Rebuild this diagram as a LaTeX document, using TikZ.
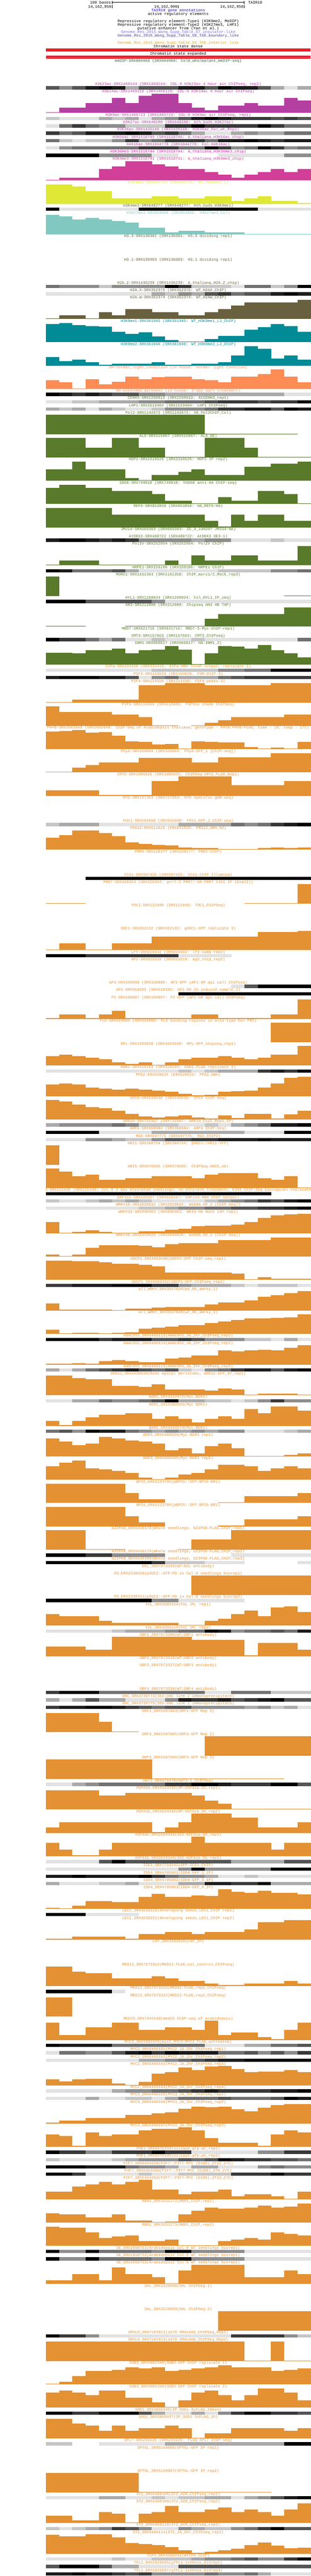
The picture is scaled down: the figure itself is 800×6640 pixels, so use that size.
\documentclass[tikz,border=0pt]{standalone}
\usepackage{fontspec}
\newfontfamily\ucsc{Liberation Mono}
\definecolor{cPur}{RGB}{179,64,160}
\definecolor{cMag}{RGB}{222,20,180}
\definecolor{cPink}{RGB}{209,63,153}
\definecolor{cYel}{RGB}{223,232,52}
\definecolor{cOl}{RGB}{104,96,62}
\definecolor{cTl}{RGB}{128,200,192}
\definecolor{cTeal}{RGB}{0,139,150}
\definecolor{cCor}{RGB}{253,140,85}
\definecolor{cGrn}{RGB}{88,122,42}
\definecolor{cOr}{RGB}{227,145,50}
\definecolor{cMe}{RGB}{60,90,60}
\definecolor{cBlue}{RGB}{20,0,224}
\definecolor{cS7}{RGB}{123,104,238}
\definecolor{cS8}{RGB}{72,61,139}
\definecolor{cS9}{RGB}{218,165,32}
\definecolor{cRed}{RGB}{237,28,36}
\definecolor{gray1}{RGB}{226,226,226}
\definecolor{gray2}{RGB}{198,198,198}
\definecolor{gray3}{RGB}{170,170,170}
\definecolor{gray4}{RGB}{141,141,141}
\definecolor{gray5}{RGB}{113,113,113}
\definecolor{gray6}{RGB}{85,85,85}
\definecolor{gray7}{RGB}{57,57,57}
\definecolor{gray8}{RGB}{28,28,28}
\definecolor{gray9}{RGB}{0,0,0}
\tikzset{lbl/.style={font={\ucsc\fontsize{10pt}{12pt}\selectfont},inner sep=0pt,anchor=base}}
\def\Ly{156.7}
\newcommand\advtrack[1]{\pgfmathsetmacro\tmpy{\Ly+#1}\global\let\Ly\tmpy}
\newcommand\trklabel[2]{\node[lbl,text=#2] (lab) at (459,\Ly+3.3) {#1};}
% dense track: label, colour, 20 grey levels
\newcommand\dtr[3]{%
  \trklabel{#1}{#2}%
  \foreach \v [count=\i] in {#3} {%
    \ifnum\v>0 \fill[gray\v] ({118+(\i-1)*34.1},\Ly+5.6) rectangle ({118+\i*34.1+0.3},\Ly+14);\fi}%
  \advtrack{19}}
% bar track: label, colour, 20 heights
\newcommand\btr[3]{%
  \trklabel{#1}{#2}%
  \foreach \h [count=\i] in {#3} {%
    \ifdim\h pt>0pt \fill[#2] ({118+(\i-1)*34.1},\Ly+55.6) rectangle ({118+\i*34.1+0.3},\Ly+55.6-\h);\fi}%
  \advtrack{60}}
\newcommand\ebar[2]{\trklabel{#1}{#2}\advtrack{60}}
\newcommand\edense[2]{\trklabel{#1}{#2}\advtrack{19}}
\begin{document}
\begin{tikzpicture}[x=1pt,y=-1pt]
\fill[white] (0,0) rectangle (800,6640);
\useasboundingbox (0,0) rectangle (800,6640);
% ruler
\node[lbl,anchor=base east] (hb) at (286,9.3) {100 bases};
\coordinate (r1) at (289,6); \coordinate (r2) at (629,6);
\draw[line width=1pt] (r1) -- (r2);
\draw[line width=1pt] (289,2) -- (289,10) (629,2) -- (629,10);
\node[lbl,anchor=base west] (tair) at (639,9.3) {TAIR10};
\node[lbl,anchor=base east] (p1) at (287,21) {14,162,850};
\node[lbl,anchor=base east] (p2) at (457,21) {14,162,900};
\node[lbl,anchor=base east] (p3) at (627,21) {14,162,950};
\draw[line width=1pt] (289,13.3) -- (289,21.7) (459,13.3) -- (459,21.7) (629,13.3) -- (629,21.7);
% top tracks
\node[lbl,text=cBlue] (t1) at (459,30) {TAIR10 gene annotations};
\node[lbl] (t2) at (459,39.3) {active regulatory elements};
\node[lbl] (t3) at (459,58) {Repressive regulatory element-Type1 (H3K9me2, MeDIP)};
\node[lbl] (t4) at (459,67) {Repressive regulatory element-Type2 (H3K27me3, LHP1)};
\node[lbl] (t5) at (459,76) {putative enhancer from (Yan et al.)};
\node[lbl,text=cS7] (t6) at (459,85.3) {Genome\_Res\_2015\_Wang\_Supp\_Table\_S7\_insulator-like};
\node[lbl,text=cS8] (t7) at (459,94.3) {Genome\_Res\_2015\_Wang\_Supp\_Table\_S8\_TAD\_boundary\_like};
\node[lbl,text=cS9] (t8) at (459,113.3) {Genome\_Res\_2015\_Wang\_Supp\_Table\_S9\_TAD\_interior\_like};
\node[lbl] (t9) at (459,122.3) {Chromatin state dense};
\fill[cRed] (118,124.3) rectangle (800,133);
\node[lbl] (t10) at (459,141.3) {Chromatin state expanded};
\fill[cRed] (118,143) rectangle (800,151.7);
\draw[cS7,line width=0.7pt] (118,147.2) -- (800,147.2);
\draw[cS7,line width=0.7pt] (118.3,143) -- (118.3,151.7);
% data tracks
\ebar{meDIP-SRX004968 (SRX004968: Col0\_wholeplant\_meDIP-seq)}{cMe}
\dtr{H3K23ac-SRX1469144 (SRX1469144: COL-0 H3K23ac 4 hour air ChIPseq, rep2)}{cPur}{6,4,6,8,9,8,3,6,6,6,8,8,6,9,8,8,6,3,1,3}
\btr{H3K14ac-SRX1469119 (SRX1469119: COL-0 H3K14ac 4 hour air ChIPseq)}{cPur}{1.7,13.7,13.7,25.7,25.7,38.7,25.7,44.7,50,50,25.7,13.7,6.7,19.7,19.7,25.7,19.7,19.7,38.7,32.7}
\dtr{H3K9ac-SRX1466723 (SRX1466723: COL-0 H3K9ac air ChIPseq, rep1)}{cPur}{2,1,1,1,3,2,3,1,3,4,6,8,9,8,7,7,7,6,7,6}
\dtr{H3K27ac-SRX648280 (SRX648280: Ath\_buds\_H3K27ac)}{cPur}{1,5,7,5,4,4,2,2,2,7,7,9,7,7,7,7,9,7,5,5}
\dtr{H3K36ac-SRX1426149 (SRX1426149: H3K36ac\_Col\_wt\_Rep1)}{cPur}{7,5,6,8,8,8,9,8,6,7,5,3,1,1,3,4,3,3,5,5}
\dtr{H3K56ac-SRX1518745 (SRX1518745: A\_thaliana\_H3K56ac\_chip)}{cPur}{5,2,1,2,2,4,7,4,5,7,7,7,5,8,8,9,8,7,8,8}
\dtr{H4K16ac-SRX1044778 (SRX1044778: Col-H4K16ac)}{cPur}{1,4,5,5,5,5,5,7,7,7,5,5,9,7,4,5,9,7,4,5}
\dtr{H3K36me3-SRX1518744 (SRX1518744: A\_thaliana\_H3K36me3\_chip)}{cMag}{9,9,9,9,4,4,4,4,1,1,0,0,0,1,1,1,1,1,4,4}
\btr{H3K4me3-SRX1518741 (SRX1518741: A\_thaliana\_H3K4me3\_chip)}{cPink}{1.7,7.7,7.7,7.7,29.7,35.7,50,50,42.3,35.7,29.7,29.7,22.3,14.7,7.7,14.7,22.3,29.7,22.3,29.7}
\btr{H3K4me2-DRX066756 (DRX066756: WT\_H3K4me2\_1)}{cYel}{50,50,44.3,32.4,32.4,13.4,13.4,13.4,19.4,19.4,13.4,13.4,19.4,19.4,7.5,13.4,19.4,7.5,7.5,1.6}
\dtr{H3K4me1-SRX648277 (SRX648277: Ath\_buds\_H3K4me1)}{cOl}{9,1,1,1,1,1,1,9,9,9,9,9,9,9,9,9,1,1,1,1}
\btr{H3K27me3-SRX853860 (SRX853860: H3K27me3\_Col)}{cTl}{50,46.7,38.7,42.7,38.7,34.4,30.4,17.4,17.4,5.5,9.5,9.5,5.5,5.5,5.5,1.6,1.6,1.6,1.6,1.6}
\ebar{H3.3-SRX130301 (SRX130301: H3.3 dividing rep1)}{cOl}
\ebar{H3.1-SRX130303 (SRX130303: H3.1 dividing rep1)}{cOl}
\dtr{H2A.Z-SRX1436239 (SRX1436239: A\_thaliana\_H2A.Z\_chip)}{cOl}{5,4,4,4,2,4,4,4,4,9,7,2,2,2,1,5,5,2,4,9}
\dtr{H2A.X-SRX352375 (SRX352375: WT\_H2AX\_ChIP)}{cOl}{1,1,1,1,1,1,1,1,3,2,4,3,6,7,5,6,6,8,9,8}
\btr{H2A.W-SRX352374 (SRX352374: WT\_H2AW\_ChIP)}{cOl}{2,9.5,9.5,2,17.4,9.5,25.3,25.3,17.4,17.4,9.5,9.5,17.4,25.3,34.4,42.3,42.3,42.3,42.3,50}
\btr{H3K9me1-SRX361945 (SRX361945: WT\_H3K9me1\_LJ\_ChIP)}{cTeal}{46.7,50,44.7,41.5,40.3,27.7,21.4,25.7,15.4,5.5,2.4,1.6,8.7,16.6,16.6,32.4,38.4,46.7,41.5,27.7}
\btr{H3K9me2-SRX361946 (SRX361946: WT\_H3K9me2\_LJ\_ChIP)}{cTeal}{22.5,11.5,15.8,8.7,1.6,4.7,4.7,4.7,8.7,1.6,1.6,4.7,4.7,8.7,25.7,50,43.5,18.6,25.7,15.8}
\btr{DH-normal\_light\_condition (in house: normal light conditon)}{cCor}{22.5,16.6,1.6,24.9,11.9,18.6,31.6,24.9,29.7,31.6,31.6,24.9,22.5,16.6,31.6,31.6,38,50,31.6,16.6}
\dtr{DH-extended\_darkness (in house: 3-day dark treatment)}{cCor}{9,8,7,8,7,6,6,4,4,3,3,3,3,3,3,3,3,3,1,1}
\dtr{CENH3-SRX2250913 (SRX2250913: AtCENH3\_rep1)}{cGrn}{1,1,2,2,3,3,3,4,4,5,5,5,6,7,7,7,6,7,7,9}
\dtr{LHP1-SRX1519404 (SRX1519404: LHP1 ChIPseq)}{cGrn}{3,2,3,1,3,2,1,1,2,4,4,4,5,7,7,8,8,6,9,8}
\btr{Pol2-SRX1142672 (SRX1142672: 30\_Pol2ChIP\_Col)}{cGrn}{50,50,50,50,50,50,50,50,50,50,50,50,1.6,1.6,1.6,1.6,1.6,1.6,1.6,0}
\btr{AL5-SRX515067 (SRX515067: AL5\_OE)}{cGrn}{50,50,50,25.3,25.3,50,50,25.3,25.3,1.6,1.6,1.6,50,50,50,25.3,1.6,1.6,1.6,1.6}
\btr{HDP2-SRX2310526 (SRX2310526: HDP2 IP rep2)}{cGrn}{29.7,29.7,50,29.7,29.7,29.7,7.5,2,15,15,22.5,29.7,15,15,15,36.8,36.8,44.7,44.7,50}
\btr{SDG8-SRX749018 (SRX749018: hSDG8 anti-HA ChIP-seq)}{cGrn}{41.5,50,50,41.5,41.5,33.6,33.6,33.6,25.7,8.7,8.7,2,2,17.8,8.7,8.7,33.6,33.6,25.7,2}
\btr{REF6-SRX853858 (SRX853858: HA\_REF6-HA)}{cGrn}{50,50,50,50,50,32.8,32.8,32.8,32.8,32.8,32.8,32.8,16.6,2.4,32.8,16.6,32.8,32.8,16.6,16.6}
\edense{JMJ14-SRX669383 (SRX669383: ZC\_3\_140207 JMJ14-HA)}{cGrn}
\dtr{AtDEK3-SRX488722 (SRX488722: AtDEK3 OE3-1)}{cGrn}{8,9,9,8,7,8,7,4,4,4,4,3,4,4,1,1,1,2,1,1}
\btr{PolIV-SRX252954 (SRX252954: PolIV ChIP)}{cGrn}{1.6,12.3,12.3,12.3,1.6,1.6,1.6,1.6,1.6,12.3,1.6,25.3,12.3,12.3,25.3,25.3,12.3,12.3,12.3,50}
\dtr{NRPE1-SRX159106 (SRX159106: NRPE1 ChIP)}{cGrn}{9,8,5,5,5,6,3,1,1,1,1,1,1,2,2,2,2,4,4,5}
\btr{MORC1-SRX1161363 (SRX1161358: ChIP\_morc1/2\_Mock\_rep3)}{cGrn}{50,0,0,0,0,0,0,0,0,0,0,0,0,0,0,0,0,0,1.6,1.6}
\dtr{HYL1-SRX1268024 (SRX1268024: Col\_HYL1\_IP\_seq)}{cGrn}{9,9,9,6,6,6,6,6,4,1,1,1,1,1,1,1,1,1,1,1}
\btr{AN3-SRX212080 (SRX212080: Chipseq AN3 HB TAP)}{cGrn}{1.6,1.6,1.6,0,0,0,1.6,1.6,1.6,1.6,1.6,1.6,19.8,32.4,32.4,32.4,32.4,32.4,50,50}
\edense{MBD7-SRX621716 (SRX621716: MBD7-5-Myc-ChIP-rep1)}{cGrn}
\dtr{CMT3-SRX157663 (SRX157663: CMT3\_ChIPseq)}{cGrn}{9,7,7,5,3,5,1,1,2,1,1,2,1,1,1,1,1,1,1,5}
\btr{IBM1-DRX066817 (DRX066817: HA-IBM1\_2)}{cGrn}{30.8,30.8,28.9,36.8,36.8,41.5,28.9,36.8,38.7,48.6,38.7,2,28.9,48.6,46.7,41.5,50,36.8,28.9,18.6}
\dtr{E2Fa-SRX333416 (SRX333416: E2Fa-HBH TChAP output, replicate 2)}{cOr}{1,1,1,1,1,1,1,1,2,2,2,2,2,4,4,5,5,9,9,9}
\dtr{PIF3-SRX159028 (SRX159028: P3M-ChIP-3)}{cOr}{8,9,9,9,8,8,6,1,4,5,3,3,3,5,6,7,7,7,7,7}
\btr{PIF4-SRX214150 (SRX214150: PIF4-peaks-3)}{cOr}{1.6,1.6,7.9,7.9,7.9,7.9,7.9,44.7,44.7,50,50,50,44.7,44.7,44.7,44.7,44.7,50,50,50}
\btr{PIF5-SRX115869 (SRX115869: PIF5ox shade ChIPSeq)}{cOr}{50,36.4,36.4,36.4,36.4,29.3,29.3,22.5,1.6,1.6,0,1.6,8.3,15.4,22.5,22.5,22.5,22.5,29.3,29.3}
\btr{PHYB-SRX2083648 (SRX2083648: ChIP-Seq of Arabidopsis thaliana; genotype - PHYB:PHYB-FLAG, time - 10, temp - 17C)}{cOr}{45.5,47.4,50,42.7,44.7,35.6,20.6,19.4,12.7,13.4,1.6,20.6,19.4,17.4,17.4,5.5,2.4,4.3,2.4,19.4}
\btr{PhyA-SRX320094 (SRX320094: PhyA-GFP\_1 [ChIP-seq])}{cOr}{1.6,1.6,12.7,19.8,25.7,25.7,25.7,38.4,38.4,38.4,38.4,26.5,26.5,39.5,39.5,39.5,39.5,49.4,50,50}
\btr{CRY2-SRX1005826 (SRX1005826: ChIPSeq-CRY2\_FLAG\_Rep1)}{cOr}{14.6,14.6,14.6,14.6,1.6,1.6,1.6,1.6,38.7,38.7,50,50,50,50,26.9,26.9,26.9,26.9,38.7,38.7}
\ebar{HY5-SRX727353 (SRX727353: HY5 specific gDB-seq)}{cOr}
\dtr{FHY1-SRX555090 (SRX555090: FHY1-GFP\_2\_ChIP-seq)}{cOr}{2,3,3,3,1,1,1,1,1,1,3,3,3,3,5,4,5,7,8,9}
\btr{FRS12-ERX611626 (ERX611626: FRS12\_HBH\_N2)}{cOr}{30.4,37.6,49,50,42.7,34.4,19.4,14.6,12.7,11.5,5.5,4,4,2.4,1.6,2.4,4,5.5,4.3,5.5}
\ebar{PRR5-SRX128177 (SRX128177: PRR5-ChIP)}{cOr}
\dtr{CCA1-SRX997425 (SRX997425: CCA1-ChIP\_Illumina)}{cOr}{0,0,0,9,9,9,9,9,9,9,9,9,9,9,9,9,9,9,9,9}
\btr{PRR7-SRX328353 (SRX328353: prr7-3 PRR7::HA-PRR7 \#151 IP (ExpII))}{cOr}{1.6,1.6,1.6,0,0,0,0,0,0,0,0,0,0,0,0,1.6,1.6,1.6,1.6,50}
\ebar{TOC1-SRX121040 (SRX121040: TOC1\_ChIPSeq)}{cOr}
\btr{SOC1-SRX262132 (SRX262132: gSOC1-GFP replicate 3)}{cOr}{1.6,17.4,17.4,1.6,1.6,17.4,17.4,17.4,34.4,34.4,34.4,34.4,34.4,34.4,34.4,34.4,46.7,46.7,46.7,50}
\dtr{LFY-SRX029442 (SRX029442: lfy-samp-rep2)}{cOr}{9,9,9,7,7,7,7,7,7,7,1,1,1,1,0,0,0,0,0,0}
\ebar{AP2-SRX019319 (SRX019319: ap2\_chip\_rep2)}{cOr}
\dtr{AP3-SRX150808 (SRX150808: AP3-GFP (AP1-GR ap1 cal) ChIPseq)}{cOr}{0,0,0,0,0,0,0,0,0,0,0,0,0,0,1,6,9,9,9,9}
\dtr{AP1-SRX018392 (SRX018392: AP1-GR\_2h\_induced\_sample\_1)}{cOr}{0,0,0,0,0,0,0,0,0,0,9,9,9,9,9,9,9,9,9,9}
\btr{PI-SRX150807 (SRX150807: PI-GFP (AP1-GR ap1 cal) ChIPseq)}{cOr}{1.6,11.9,11.9,1.6,11.9,20.6,1.6,1.6,1.6,1.6,1.6,11.9,11.9,1.6,1.6,1.6,1.6,11.9,11.9,50}
\btr{FLC-SRX039006 (SRX039006: FLC binding regions in wild type Col FRI)}{cOr}{0,0,0,0,0,0,0,0,0,0,0,0,0,0,0,0,0,50,50,50}
\btr{RPL-SRX1603698 (SRX1603698: RPL-GFP\_chipseq\_rep1)}{cOr}{24.5,27.3,24.5,20.6,16.6,8.3,4.3,8.3,1.6,8.3,16.6,20.6,20.6,24.5,20.6,16.6,20.6,27.3,27.3,50}
\dtr{KAN1-SRX310193 (SRX310193: KAN1-FLAG replicate 1)}{cOr}{1,1,1,1,1,1,1,1,1,1,2,1,2,3,3,3,7,8,7,9}
\btr{PPD2-ERX620625 (ERX620625: PPD2\_HBH)}{cOr}{30,32,30,21.7,19.4,16.6,19.4,16.6,14.6,10.7,5.5,1.6,3.6,10.7,12.7,14.6,21.7,32,46.7,50}
\btr{SPCH-SRX539638 (SRX539638: SPCH ChIP-Seq)}{cOr}{50,46.7,37.6,30.8,28.5,21.7,14.6,7.5,5.5,7.5,10.7,5.5,1.6,10.7,3.6,14.6,14.6,1.6,12.7,21.7}
\dtr{ARR10-SRX732967 (SRX732967: ARR10\_Exp1\_Rep1\_IP)}{cOr}{3,4,4,4,4,5,4,2,2,2,1,1,2,1,3,4,5,8,8,9}
\dtr{ARF6-SRX368984 (SRX368984: ARF6 ChIP-Seq)}{cOr}{9,9,9,9,1,1,1,1,3,3,3,3,3,3,3,1,1,1,9,9}
\dtr{RGA-SRX647775 (SRX647775: RGA\_ChIP2)}{cOr}{1,1,1,4,4,3,2,2,4,6,6,7,7,8,8,8,9,8,8,8}
\btr{HBI1-SRX388754 (SRX388754: pHBI1::HBI1-YFP)}{cOr}{50,0,0,0,0,0,0,0,0,0,0,0,0,0,0,0,0,0,0,0}
\btr{ABI5-SRX670505 (SRX670505: ChIPSeq-ABI5\_Ab)}{cOr}{50,42.3,30.4,34.4,21.4,21.4,25.3,25.3,30.4,30.4,30.4,25.3,34.4,38.4,38.4,38.4,25.3,21.4,30.4,1.6}
\begin{scope}
\clip (118,\Ly-7) rectangle (800,\Ly+5.5);
\node[lbl,text=cOr] (ein) at (459,\Ly+3.3) {EIN3-SRX215430 (SRX215430: Col-0 3-day etiolated seedlings, no ethylene treatment, EIN3 ChIP-Seq biological replicate 1)};
\end{scope}
\dtr{}{cOr}{9,9,9,9,9,9,9,9,9,9,9,9,9,9,9,9,9,0,0,0}
\dtr{ERF115-SRX320167 (SRX320167: ERF115-HBH ChIP output)}{cOr}{2,1,1,2,3,2,3,2,1,1,1,1,2,3,4,5,7,6,8,9}
\dtr{WRKY18-SRX2039032 (SRX2039032: W18HA\_0h\_2 (ChIP-Seq))}{cOr}{1,1,1,1,1,1,1,2,2,3,4,4,5,5,6,6,7,7,8,9}
\btr{WRKY33-SRX890383 (SRX890383: WK33-HA mock 14h rep1)}{cOr}{29.3,1.6,3.6,7.5,3.6,1.6,1.6,5.5,5.5,9.5,11.5,18.6,20.6,20.6,22.5,29.3,40.3,46.3,48.6,50}
\btr{WRKY40-SRX2039026 (SRX2039026: W40HA\_0h\_1 (ChIP-Seq))}{cOr}{5.5,1.6,5.5,22.5,29.7,29.7,29.7,27.7,24.5,31.6,34.4,34.4,34.4,43.5,43.5,43.5,43.5,50,50,50}
\btr{ADCP1-SRX4503490(ADCP1-GFP ChIP-seq\_rep1)}{cOr}{50,50,47.8,47.8,45.5,41.5,41.5,38.7,35.6,19.8,19.8,19.8,19.8,19.8,16.6,1.6,6.7,3.6,3.6,3.6}
\dtr{ADCP1\_SRX4503492(ADCP1-GFP\_ChIPseq\_rep2)}{cOr}{7,7,8,8,8,9,9,9,7,7,4,3,3,3,2,1,2,2,2,1}
\btr{all\_WRKY\_SRX3557820(wt\_0h\_aWrky\_1)}{cOr}{18.6,2.8,2.8,2.8,2.8,1.6,4.7,4.7,7.5,8.7,8.7,8.7,15.8,21.7,21.7,26.9,35.6,40.3,44.7,50}
\btr{all\_WRKY\_SRX3557828(wt\_0h\_aWrky\_2)}{cOr}{10.3,1.6,2.4,2.4,1.6,2.4,4.3,13.4,16.6,18.6,22.5,23.3,28.5,31.6,35.6,39.5,39.5,41.5,42.3,50}
\dtr{ANAC055\_SRX6460113(ANAC055\_JA\_2hr\_ChIPseq\_rep1)}{cOr}{9,9,9,9,7,8,8,8,6,6,7,6,4,4,4,2,2,1,3,1}
\btr{ANAC055\_SRX6460114(ANAC055\_JA\_2hr\_ChIPseq\_rep2)}{cOr}{1.6,1.6,3.6,1.6,8.7,11.5,8.7,5.9,5.9,15.4,18.6,23.3,23.3,36.4,33.6,36.4,38.4,36.4,43.5,50}
\dtr{ANAC055\_SRX6460115(ANAC055\_JA\_2hr\_ChIPseq\_rep3)}{cOr}{3,1,3,5,6,7,8,6,5,6,2,1,4,5,7,8,8,6,8,9}
\btr{ARR12\_SRX6490939(Root apical meristems, ARR12-GFP\_IP\_rep2)}{cOr}{50,50,44.6,41.5,41.5,24.5,24.5,21.7,27.6,14.5,14.5,14.5,11.5,17.7,14.5,1.5,4.6,4.6,4.6,1.5}
\dtr{BDR1\_SRX3928572(Myc\_BDR1)}{cOr}{1,1,3,3,5,4,4,5,6,9,3,3,2,2,1,2,4,7,4,4}
\btr{BDR1\_SRX5900593(Myc BDR1)}{cOr}{12.7,1.6,12.7,21.7,28.9,28.9,32.8,32.8,17.8,24.5,17.8,8.7,17.8,24.5,17.8,43.5,32.8,50,50,39.5}
\dtr{BDR2\_SRX3928574(Myc\_BDR2)}{cOr}{5,6,4,9,8,8,5,4,3,4,3,4,3,4,4,1,1,1,2,3}
\btr{BDR3\_SRX5900594(Myc BDR3 rep1)}{cOr}{46.7,38.7,29.7,33.6,50,46.7,41.9,38.7,33.6,16.6,21.7,8.7,26.9,33.6,21.7,1.6,1.6,1.6,4.7,8.7}
\btr{BDR3\_SRX5900595(Myc BDR3 rep2)}{cOr}{34.4,43.5,50,29.7,26.5,22.5,17.4,5.5,1.6,5.5,13.4,17.4,26.5,38.4,38.4,34.4,22.5,29.7,34.4,29.7}
\btr{BPC6\_ERX2223705(pBPC6::GFP:BPC6-BR1)}{cOr}{50,50,50,50,50,50,25.7,9.9,9.9,0,0,0,0,1.6,1.6,17.4,17.4,17.4,17.4,25.7}
\btr{BPC6\_ERX2223706(pBPC6::GFP:BPC6-BR1)}{cOr}{50,50,50,50,50,50,25.7,9.5,9.5,0,0,0,0,1.6,1.6,17.8,17.8,17.8,17.8,25.7}
\btr{bZIP68\_SRX6410178(Whole seedlings, bZIP68-FLAG,CHIP,rep1)}{cOr}{50,50,50,1.6,1.6,1.6,0,0,0,0,1.6,26.9,26.9,26.9,50,50,50,50,50,50}
\dtr{bZIP68\_SRX6410179(Whole seedlings, bZIP68-FLAG,CHIP,rep2)}{cOr}{9,9,9,7,7,4,4,4,4,0,0,0,0,0,1,1,1,1,1,1}
\dtr{bZIP68\_SRX6410180(Whole seedlings, bZIP68-FLAG,CHIP,rep3)}{cOr}{9,9,9,9,9,9,9,9,7,2,2,2,1,1,1,0,0,0,0,1}
\edense{EEL\_SRX7873339(WT:EEL antibody)}{cOr}
\btr{FD\_ERX2338310(pSUC2::GFP:FD in Col-0 seedlings biorep1)}{cOr}{0,0,0,0,0,0,0,0,0,0,0,50,50,50,50,50,50,50,50,50}
\dtr{FD\_ERX2338311(pSUC2::GFP:FD in Col-0 seedlings biorep2)}{cOr}{9,9,9,9,9,9,9,9,4,4,1,1,1,1,1,0,0,0,0,0}
\btr{FUL\_SRX3505414(FUL IM, rep1)}{cOr}{29.7,24.5,24.5,24.5,12.7,7.5,7.5,7.5,7.5,7.5,1.6,1.6,12.7,17.4,29.7,39.5,24.5,46.7,50,34.4}
\dtr{FUL\_SRX3505415(FUL IM, rep2)}{cOr}{1,1,1,1,1,2,3,3,3,4,5,5,9,8,4,5,5,6,5,8}
\btr{GBF1\_SRX7873305(WT:GBF1 antibody)}{cOr}{25.7,25.7,25.7,17.4,17.4,50,50,50,50,50,50,42.7,42.7,42.7,42.7,2,34.4,34.4,34.4,17.4}
\edense{GBF2\_SRX7873316(WT:GBF2 antibody)}{cOr}
\ebar{GBF3\_SRX7873327(WT:GBF3 antibody)}{cOr}
\dtr{GBF4\_SRX7873338(WT:GBF4 antibody)}{cOr}{7,9,9,9,5,5,5,5,5,5,5,5,1,1,5,5,5,2,2,2}
\dtr{GNC\_SRX3739773(35S:GNC line 2 immunoprecipitate)}{cOr}{3,1,3,6,3,3,1,1,1,4,8,7,7,8,6,7,8,9,6,6}
\dtr{GNC\_SRX3739775(35S:GNC line 1 immunoprecipitate)}{cOr}{7,8,8,9,9,8,7,6,5,6,6,4,4,4,4,3,4,2,3,1}
\btr{GRF1\_SRX5507863(GRF1-GFP Rep 3)}{cOr}{50,50,50,50,26.9,1.6,1.6,0,0,0,0,0,0,0,0,0,0,0,0,0}
\btr{GRF3\_SRX5507865(GRF3-GFP Rep 2)}{cOr}{0,0,0,0,0,0,0,0,0,0,0,0,50,50,50,50,50,50,50,50}
\btr{GRF3\_SRX5507866(GRF3-GFP Rep 3)}{cOr}{50,50,50,50,50,50,50,50,1.6,1.6,1.6,1.6,1.6,1.6,1.6,1.6,1.6,1.6,0,0}
\dtr{HAT3\_SRX875470(HAT3-1\_ChIPSeq)}{cOr}{1,1,3,4,5,5,5,5,5,7,7,9,9,8,7,7,7,9,9,6}
\btr{HSFA1b\_SRX2024335(NP:HSFA1b\_NS\_rep1)}{cOr}{50,50,50,50,36.8,36.8,43.5,43.5,43.5,43.5,43.5,36.8,22.5,15.4,1.6,1.6,1.6,1.6,1.6,1.6}
\btr{HSFA1b\_SRX2024336(NP:HSFA1b\_NS\_rep2)}{cOr}{13.8,26.9,26.9,26.9,26.9,26.9,26.9,26.9,2,13.8,26.9,50,50,50,38.7,38.7,13.8,13.8,13.8,26.9}
\btr{HSFA1b\_SRX2024343(35S:HSFA1b\_NS\_rep1)}{cOr}{34.4,17.4,2,2,17.4,34.4,34.4,34.4,34.4,34.4,34.4,50,34.4,34.4,34.4,34.4,34.4,17.4,34.4,34.4}
\dtr{HSFA1b\_SRX2024344(35S:HSFA1b\_NS\_rep2)}{cOr}{1,1,1,1,6,9,6,6,6,6,6,6,6,6,3,3,3,3,6,6}
\dtr{ICE1\_SRX7719242(GFP-ICE1\_ChIP)}{cOr}{1,1,1,1,1,1,1,1,1,1,4,9,4,4,4,4,4,9,9,9}
\dtr{IDD4\_SRX4705001(IDD4-GFP\_1\_IP)}{cOr}{8,8,9,8,8,8,8,9,7,5,4,4,3,1,1,2,1,1,1,1}
\dtr{IDD4\_SRX4705002(IDD4-GFP\_3\_IP)}{cOr}{3,1,1,1,2,2,3,1,1,1,3,3,8,8,7,7,9,3,3,3}
\btr{IDD4\_SRX4705003(IDD4-GFP\_4\_IP)}{cOr}{2.4,1.6,7.5,19.4,19.4,17.4,17.4,31.2,38.4,31.2,30.4,34.4,33.6,50,44.3,41.5,46.3,41.5,41.5,37.6}
\dtr{LEC1\_SRX3638219(developing seeds\_LEC1\_ChIP rep1)}{cOr}{9,9,9,1,1,1,1,0,0,0,0,0,0,0,0,0,0,0,0,0}
\btr{LEC1\_SRX3638221(developing seeds\_LEC1\_ChIP rep2)}{cOr}{1.6,1.6,7.5,7.5,7.5,7.5,1.6,13.4,13.4,19.4,19.4,13.4,19.4,19.4,19.4,25.7,44.7,44.7,50,50}
\ebar{LHY\_SRX3182010(LHY\_IP)}{cOr}
\btr{MED12\_SRX7573312(MED12-FLAG\_col\_control\_ChIPseq)}{cOr}{50,50,37.6,32.8,32.8,19.8,19.8,19.8,25.7,19.8,13.8,13.8,6.7,2,2,6.7,6.7,6.7,13.8,6.7}
\dtr{MED12\_SRX7573320(MED12-FLAG\_rep1\_ChIPseq)}{cOr}{9,9,9,9,9,1,0,0,0,0,0,0,0,0,0,0,0,0,0,0}
\btr{MED12\_SRX7573322(MED12-FLAG\_rep2\_ChIPseq)}{cOr}{50,50,0,0,0,0,0,0,0,0,0,0,0,0,0,0,0,0,0,0}
\btr{MED25\_SRX7445540(med25 ChIP-seq of arabidopsis)}{cOr}{44.7,13.4,13.4,32.4,32.4,44.7,44.7,26.5,26.5,32.4,32.4,26.5,50,13.4,19.4,19.4,7.5,1.6,26.5,44.7}
\dtr{MYC2\_SRX5982476(myc2\_MYC2:MYC2\_FLAG\_untreated)}{cOr}{9,8,8,8,8,5,5,5,5,5,5,5,1,1,1,3,3,5,5,6}
\dtr{MYC2\_SRX6460101(MYC2\_JA\_2hr\_ChIPseq\_rep1)}{cOr}{1,5,5,4,4,6,8,9,7,9,8,8,8,5,5,6,4,6,4,7}
\dtr{MYC2\_SRX6460102(MYC2\_JA\_2hr\_ChIPseq\_rep2)}{cOr}{1,1,1,1,1,1,1,3,3,4,5,6,7,8,8,9,9,9,9,9}
\btr{MYC2\_SRX6460103(MYC2\_JA\_2hr\_ChIPseq\_rep3)}{cOr}{15.4,10.7,15.4,17.4,17.4,5.5,1.6,9.5,30.4,34.4,45.5,39.5,49.4,50,42.7,34.4,35.6,35.6,39.5,33.6}
\dtr{MYC2\_SRX6460104(MYC2\_JA\_2hr\_ChIPseq\_rep4)}{cOr}{1,1,1,1,1,3,4,4,5,5,6,7,8,7,7,7,7,8,8,9}
\dtr{MYC3\_SRX6460105(MYC3\_JA\_2hr\_ChIPseq\_rep1)}{cOr}{1,1,1,3,1,1,2,2,1,3,5,5,5,6,5,5,5,6,9,8}
\btr{MYC3\_SRX6460106(MYC3\_JA\_2hr\_ChIPseq\_rep2)}{cOr}{1.6,7.5,7.5,13.4,13.4,14.6,21.7,21.7,26.5,28.5,37.5,43.5,41.5,43.5,36.7,31.6,40.6,46.5,49.5,50}
\btr{MYC3\_SRX6460107(MYC3\_JA\_2hr\_ChIPseq\_rep3)}{cOr}{31.6,26.9,2,36.8,26.9,31.6,31.6,41.5,46.7,46.7,50,41.5,21.7,10.7,10.7,10.7,2,31.6,41.5,36.8}
\dtr{PHE1\_SRX5676333(silique.gfp.wt\_rep1)}{cOr}{9,7,7,4,4,7,7,7,9,7,7,1,1,1,1,1,4,4,7,7}
\dtr{PHE1\_SRX5676335(silique.gfp.wt\_rep2)}{cOr}{2,1,1,1,1,2,3,4,4,4,6,5,6,9,8,7,7,6,6,5}
\dtr{PIF7\_SRX5454258(PIF7::PIF7-MYC (D108)\_ZT12\_27C)}{cOr}{9,9,9,8,8,8,5,4,4,3,1,3,3,1,1,1,4,5,4,4}
\dtr{PIF7\_SRX5454260(PIF7::PIF7-MYC (D108)\_ZT8\_27C)}{cOr}{9,9,7,1,1,1,1,2,1,1,2,2,2,2,7,7,7,9,7,7}
\btr{PIF7\_SRX5454262(PIF7::PIF7-MYC (D108)\_ZT12\_27C)}{cOr}{19.8,19.8,32.8,38.7,44.7,38.7,44.7,50,25.7,25.7,13.8,19.8,19.8,25.7,7.9,13.8,13.8,7.9,2,19.8}
\btr{RBR1\_SRX3531272(RBR1\_ChIP\_rep1)}{cOr}{24.5,21.4,21.4,13.4,13.4,21.4,6.3,6.3,1.6,3.6,21.4,30.4,38.4,36,36,38.4,44.3,38.4,41.5,50}
\btr{RBR1\_SRX3531273(RBR1\_ChIP\_rep2)}{cOr}{50,47.4,47.4,35.6,20.6,24.5,27.7,12.7,12.7,16.6,1.6,1.6,1.6,12.7,16.6,20.6,16.6,35.6,31.6,27.7}
\dtr{SE\_ERX2858751(Arabidopsis Col-0 WT seedlings biorep1)}{cOr}{9,4,4,9,5,5,5,5,4,9,9,4,4,4,4,1,1,1,1,1}
\dtr{SE\_ERX2858752(Arabidopsis Col-0 WT seedlings biorep1)}{cOr}{9,4,4,9,5,5,5,5,4,9,9,4,4,4,4,1,1,1,1,1}
\btr{SE\_ERX2858753(Arabidopsis Col-0 WT seedlings biorep1)}{cOr}{9.5,9.5,26.1,26.1,9.5,42.7,26.1,26.1,17.8,2,34.4,50,50,50,50,17.8,17.8,17.8,34.4,26.1}
\ebar{SHL\_SRX3226098(SHL ChIPSeq-1)}{cOr}
\btr{SHL\_SRX3226099(SHL ChIPSeq-2)}{cOr}{0,0,0,0,0,0,0,0,0,0,0,0,0,50,50,50,50,50,50,50}
\dtr{SMXL6\_SRX7187013(s678 SMXL6HA\_ChIPSeq\_Rep1)}{cOr}{9,7,7,4,1,1,1,1,1,1,1,1,1,1,7,7,7,7,4,2}
\btr{SMXL6\_SRX7187015(s678 SMXL6HA\_ChIPSeq\_Rep2)}{cOr}{50,50,50,50,50,50,50,50,50,50,50,50,50,50,50,1.5,1.5,50,1.5,1.5}
\btr{SOB3\_SRX5001348(SOB3-GFP ChIP replicate 1)}{cOr}{1.5,7.4,21.5,34.4,34.4,37.7,44.4,41.4,44.4,34.4,37.7,41.4,44.4,50,44.4,44.4,44.4,34.4,37.7,41.4}
\btr{SOB3\_SRX5001349(SOB3-GFP ChIP replicate 2)}{cOr}{38.5,44.4,38.5,32.6,44.4,44.4,25.5,25.5,13.3,1.8,19.6,38.5,44.4,32.6,19.6,32.6,50,50,38.5,19.6}
\dtr{SOG1\_SRX3866936(IP\_SOG1-3xFLAG\_20min)}{cOr}{9,9,7,7,9,9,9,6,3,1,1,3,1,4,7,9,9,7,7,6}
\btr{SOG1\_SRX3866937(IP\_SOG1-3xFLAG\_1h)}{cOr}{50,50,38.5,32.6,19.6,32.6,19.6,26.6,26.6,32.6,26.6,1.5,13.7,13.7,26.6,26.6,26.6,26.6,19.6,26.6}
\dtr{SPL7-SRX250135 (SRX250135: FLAG-SPL7 ChIP-seq)}{cOr}{2,2,0,0,1,1,1,1,1,3,3,3,3,3,3,3,3,3,9,9}
\ebar{SPT6L\_SRX5169086(SPT6L-GFP IP rep1)}{cOr}
\btr{SPT6L\_SRX5169087(SPT6L-GFP IP rep2)}{cOr}{50,50,50,50,50,50,50,1.5,1.5,1.5,1.5,1.5,1.5,1.5,1.5,1.5,1.5,0,0,0}
\dtr{STZ\_SRX6460108(STZ\_AIR\_ChIPseq\_rep1)}{cOr}{1,1,1,1,3,3,1,1,2,1,2,2,3,3,1,3,4,6,8,9}
\btr{STZ\_SRX6460109(STZ\_AIR\_ChIPseq\_rep2)}{cOr}{18.5,18.5,7.4,7.4,28.5,23.7,1.8,23.7,28.5,44.4,28.5,28.5,34.4,39.6,28.5,34.4,28.5,18.5,34.4,50}
\dtr{STZ\_SRX6460110(STZ\_AIR\_ChIPseq\_rep3)}{cOr}{2,1,2,3,4,7,6,4,1,1,4,3,2,2,4,5,7,9,6,6}
\btr{STZ\_SRX6460111(STZ\_JA\_2hr\_ChIPseq\_rep1)}{cOr}{49.2,45.1,45.1,50,50,41.4,27.4,25.2,22.2,17.4,9.3,1.5,4.4,9.3,12.2,22.2,28.1,20.4,14.4,15.2}
\dtr{TCP4\_SRX4168241(mTCP4\_ChIP)}{cOr}{1,1,1,1,1,2,1,1,2,2,2,3,4,4,5,6,4,4,7,9}
\dtr{TFL1\_ERX2826885(gTFL1-1xVenus\_biorep1)}{cOr}{6,9,9,9,6,3,3,1,1,1,6,6,6,6,6,6,6,6,6,6}
\dtr{TFL1\_ERX2826887(gTFL1-1xVenus\_biorep3)}{cOr}{8,8,9,8,8,7,6,7,4,4,4,4,5,4,4,5,3,1,1,1}
\end{tikzpicture}
\end{document}
